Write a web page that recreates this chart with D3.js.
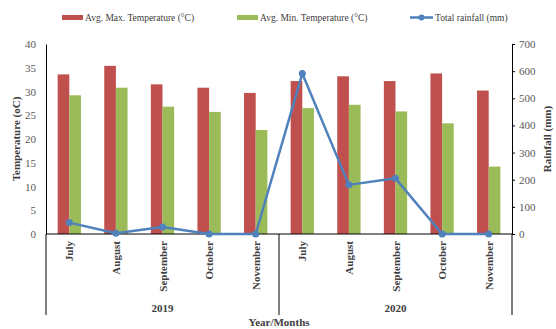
<!DOCTYPE html>
<html>
<head>
<meta charset="utf-8">
<script src="https://cdn.jsdelivr.net/npm/d3@7"></script>
<style>
  body { margin: 0; background: #fff; }
  svg text { font-family: "Liberation Serif", "Times New Roman", serif; }
</style>
</head>
<body>
<div class="chart"></div>
<script>
var svgWidth = 556;
var svgHeight = 329;

// data
var years = ["2019", "2020"];
var months = ["July", "August", "September", "October", "November"];
var maxTemp = [33.6, 35.4, 31.5, 30.8, 29.7, 32.2, 33.2, 32.2, 33.8, 30.2];
var minTemp = [29.2, 30.8, 26.8, 25.7, 21.9, 26.5, 27.2, 25.8, 23.3, 14.2];
var rainfall = [42, 3, 26, 0, 0, 591, 181, 205, 0, 0];
var tempTicks = [0, 5, 10, 15, 20, 25, 30, 35, 40];
var rainTicks = [0, 100, 200, 300, 400, 500, 600, 700];

var margin = { top: 44, right: 44, bottom: 95, left: 46 };
var width = svgWidth - margin.left - margin.right;
var height = svgHeight - margin.top - margin.bottom;

var red = "#C0504D", green = "#9BBB59", blue = "#4F81BD";

var cats = [];
years.forEach(y => months.forEach(m => cats.push(y + "-" + m)));

var svg = d3.select(".chart")
    .append("svg")
    .attr("width", svgWidth)
    .attr("height", svgHeight);

var chartGroup = svg.append("g")
    .attr("transform", `translate(${margin.left}, ${margin.top})`);

var xScale = d3.scaleBand().domain(cats).range([0, width]);
var xInner = d3.scaleBand().domain(["max", "min"]).range([0, xScale.bandwidth()]).paddingOuter(1);
var yLeft = d3.scaleLinear().domain([0, 40]).range([height, 0]);
var yRight = d3.scaleLinear().domain([0, 700]).range([height, 0]);

// bars
var barData = cats.map((c, i) => ({ c: c, max: maxTemp[i], min: minTemp[i] }));
var groups = chartGroup.selectAll(".grp")
    .data(barData)
    .join("g")
    .attr("transform", d => `translate(${xScale(d.c)},0)`);

groups.append("rect")
    .attr("x", xInner("max"))
    .attr("width", xInner.bandwidth())
    .attr("y", d => yLeft(d.max))
    .attr("height", d => height - yLeft(d.max))
    .attr("fill", red);

groups.append("rect")
    .attr("x", xInner("min"))
    .attr("width", xInner.bandwidth())
    .attr("y", d => yLeft(d.min))
    .attr("height", d => height - yLeft(d.min))
    .attr("fill", green);

// left axis
var leftAxis = chartGroup.append("g")
    .call(d3.axisLeft(yLeft).tickValues(tempTicks).tickSize(0).tickPadding(10));
leftAxis.select(".domain").attr("stroke", "#000");
leftAxis.selectAll("text").attr("font-size", 11).attr("fill", "#595959")
    .style("font-family", "Liberation Serif");

// right axis
var rightAxis = chartGroup.append("g")
    .attr("transform", `translate(${width},0)`)
    .call(d3.axisRight(yRight).tickValues(rainTicks).tickSizeInner(3).tickSizeOuter(0).tickPadding(4));
rightAxis.select(".domain").attr("stroke", "#000");
rightAxis.selectAll("line").attr("stroke", "#000");
rightAxis.selectAll("text").attr("font-size", 11).attr("fill", "#595959")
    .style("font-family", "Liberation Serif");

// x baseline
chartGroup.append("line")
    .attr("x1", 0).attr("x2", width)
    .attr("y1", height).attr("y2", height)
    .attr("stroke", "#000");

// group separators
[0, width / 2, width].forEach(x => {
    chartGroup.append("line")
        .attr("x1", x).attr("x2", x)
        .attr("y1", height).attr("y2", height + 81)
        .attr("stroke", "#000");
});

// month labels
chartGroup.selectAll(".month")
    .data(cats)
    .join("text")
    .attr("transform", d => `translate(${xScale(d) + xScale.bandwidth() / 2 + 4},${height + 7}) rotate(-90)`)
    .attr("text-anchor", "end")
    .attr("font-size", 11)
    .attr("font-weight", "bold")
    .attr("fill", "#404040")
    .text(d => d.split("-")[1]);

// year labels
chartGroup.selectAll(".year")
    .data(years)
    .join("text")
    .attr("x", (d, i) => xScale(d + "-" + months[2]) + xScale.bandwidth() / 2)
    .attr("y", height + 78)
    .attr("text-anchor", "middle")
    .attr("font-size", 11)
    .attr("font-weight", "bold")
    .attr("fill", "#404040")
    .text(d => d);

// rainfall line
var line = d3.line()
    .x((d, i) => xScale(cats[i]) + xScale.bandwidth() / 2)
    .y(d => yRight(d));

chartGroup.append("path")
    .datum(rainfall)
    .attr("d", line)
    .attr("fill", "none")
    .attr("stroke", blue)
    .attr("stroke-width", 2.5)
    .attr("stroke-linejoin", "round");

chartGroup.selectAll(".pt")
    .data(rainfall)
    .join("circle")
    .attr("cx", (d, i) => xScale(cats[i]) + xScale.bandwidth() / 2)
    .attr("cy", d => yRight(d))
    .attr("r", 3.5)
    .attr("fill", blue);

// axis titles
svg.append("text")
    .attr("transform", `translate(20,${margin.top + height / 2}) rotate(-90)`)
    .attr("text-anchor", "middle")
    .attr("font-size", 11)
    .attr("font-weight", "bold")
    .attr("fill", "#404040")
    .text("Temperature (oC)");

svg.append("text")
    .attr("transform", `translate(551,${margin.top + height / 2}) rotate(-90)`)
    .attr("text-anchor", "middle")
    .attr("font-size", 11)
    .attr("font-weight", "bold")
    .attr("fill", "#404040")
    .text("Rainfall (mm)");

svg.append("text")
    .attr("x", margin.left + width / 2)
    .attr("y", 326)
    .attr("text-anchor", "middle")
    .attr("font-size", 11)
    .attr("font-weight", "bold")
    .attr("fill", "#404040")
    .text("Year/Months");

// legend
var legend = svg.append("g").attr("font-size", 9.5).attr("fill", "#404040");
legend.append("rect").attr("x", 62).attr("y", 15).attr("width", 21).attr("height", 5).attr("fill", red);
legend.append("text").attr("x", 85).attr("y", 21).text("Avg. Max. Temperature (°C)");
legend.append("rect").attr("x", 237).attr("y", 15).attr("width", 21).attr("height", 5).attr("fill", green);
legend.append("text").attr("x", 260).attr("y", 21).text("Avg. Min. Temperature (°C)");
legend.append("line").attr("x1", 410).attr("x2", 433).attr("y1", 17.5).attr("y2", 17.5)
    .attr("stroke", blue).attr("stroke-width", 2.5);
legend.append("circle").attr("cx", 421.5).attr("cy", 17.5).attr("r", 3).attr("fill", blue);
legend.append("text").attr("x", 435).attr("y", 21).text("Total rainfall (mm)");
</script>
</body>
</html>
